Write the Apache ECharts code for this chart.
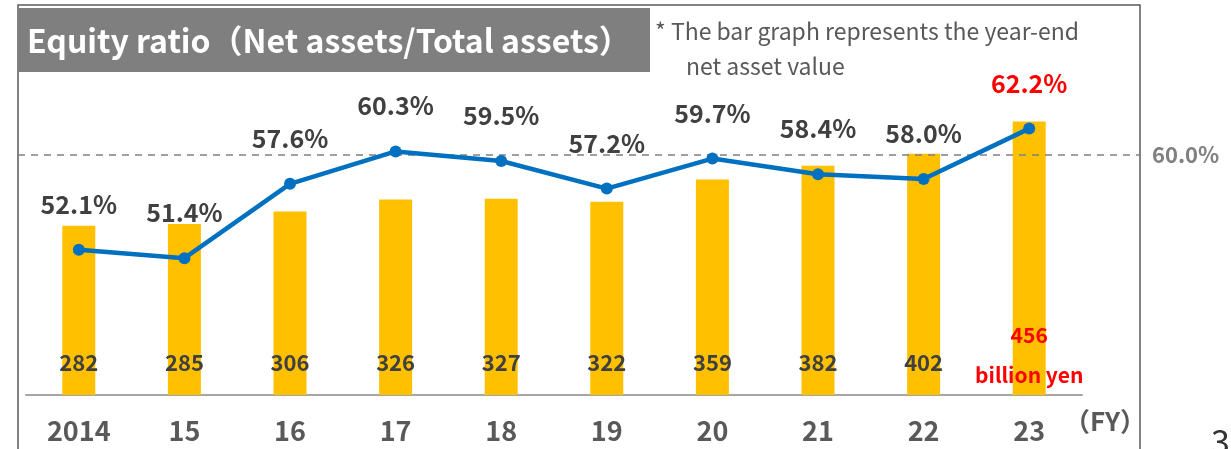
<!DOCTYPE html>
<html>
<head>
<meta charset="utf-8">
<script src="https://cdn.jsdelivr.net/npm/echarts@6/dist/echarts.min.js"></script>
<style>
html,body{margin:0;padding:0;background:#fff;}
#chart{width:1231px;height:449px;}
</style>
</head>
<body>
<div id="chart"></div>
<script>
const categories = ['2014','15','16','17','18','19','20','21','22','23'];
const netAssets = [282,285,306,326,327,322,359,382,402,456];
const equityRatio = [52.1,51.4,57.6,60.3,59.5,57.2,59.7,58.4,58.0,62.2];
const referenceRatio = 60.0;
const titleText = 'Equity ratio（Net assets/Total assets）';
const noteLines = ['* The bar graph represents the year-end', 'net asset value'];
const unitText = 'billion yen';
const axisUnit = '（FY）';
const pageNumber = '3';

const FONT = '"Noto Sans CJK JP", "Noto Sans", sans-serif';
const last = categories.length - 1;

const barData = netAssets.map((v, i) => i === last ? {
  value: v,
  label: {
    formatter: '{v|' + v + '}\n{u|' + unitText + '}',
    distance: 7,
    rich: {
      v: {color: '#FF0000', fontSize: 21, fontWeight: 'bold', fontFamily: FONT, lineHeight: 54},
      u: {color: '#FF0000', fontSize: 21, fontWeight: 'bold', fontFamily: FONT, lineHeight: 26}
    }
  }
} : v);

const lineData = equityRatio.map((v, i) => i === last ? {
  value: v, label: {color: '#FF0000'}
} : v);

const chart = echarts.init(document.getElementById('chart'), null, {renderer: 'canvas'});
chart.setOption({
  animation: false,
  backgroundColor: '#fff',
  grid: [
    {left: 26, right: 149, top: 95, bottom: 54},
    {left: 18, right: 91, top: 95, bottom: 54}
  ],
  xAxis: [
    {
      type: 'category', data: categories, gridIndex: 0,
      axisLine: {lineStyle: {color: '#A6A6A6', width: 2}},
      axisTick: {show: false},
      axisLabel: {color: '#595959', fontSize: 27, fontWeight: 'bold', fontFamily: FONT, margin: 22},
      name: axisUnit, nameLocation: 'end', nameGap: -18,
      nameTextStyle: {color: '#595959', fontSize: 26, fontWeight: 'bold', fontFamily: FONT,
        verticalAlign: 'top', align: 'left', padding: [13, 0, 0, 0]}
    },
    {type: 'value', gridIndex: 1, min: 0, max: 1, show: false}
  ],
  yAxis: [
    {type: 'value', gridIndex: 0, min: 0, max: 500, show: false},
    {type: 'value', gridIndex: 0, min: 40, max: 65, show: false},
    {type: 'value', gridIndex: 1, min: 40, max: 65, show: false}
  ],
  series: [
    {
      type: 'bar', xAxisIndex: 0, yAxisIndex: 0, data: barData,
      barWidth: 33, itemStyle: {color: '#FFC000'}, z: 1,
      label: {show: true, position: 'insideBottom', distance: 21,
        color: '#404040', fontSize: 22, fontWeight: 'bold', fontFamily: FONT}
    },
    {
      type: 'line', xAxisIndex: 1, yAxisIndex: 2,
      data: [[0, referenceRatio], [1, referenceRatio]],
      symbol: 'none', silent: true, z: 2,
      lineStyle: {color: '#808080', width: 1.5, type: [7, 6]},
      endLabel: {show: true, formatter: referenceRatio.toFixed(1) + '%', distance: 12,
        color: '#808080', fontSize: 22, fontWeight: 'bold', fontFamily: FONT}
    },
    {
      type: 'line', xAxisIndex: 0, yAxisIndex: 1, data: lineData, z: 3,
      symbol: 'circle', symbolSize: 12,
      lineStyle: {color: '#0070C0', width: 4.5},
      itemStyle: {color: '#0070C0'},
      label: {show: true, position: 'top', distance: 27,
        formatter: p => p.value.toFixed(1) + '%',
        color: '#404040', fontSize: 25, fontWeight: 'bold', fontFamily: FONT}
    }
  ],
  graphic: [
    {type: 'rect', shape: {x: 18, y: 5, width: 1122, height: 460}, z: -10,
      style: {fill: 'none', stroke: '#595959', lineWidth: 1.5}},
    {type: 'rect', shape: {x: 18, y: 8, width: 632, height: 64}, z: 10,
      style: {fill: '#7F7F7F'}},
    {type: 'text', x: 27, y: 41, z: 11,
      style: {text: titleText, fill: '#FFFFFF', font: 'bold 32px ' + FONT, textVerticalAlign: 'middle'}},
    {type: 'text', x: 655, y: 31, z: 11,
      style: {text: noteLines[0], fill: '#595959', font: '23px ' + FONT, textVerticalAlign: 'middle'}},
    {type: 'text', x: 686, y: 66, z: 11,
      style: {text: noteLines[1], fill: '#595959', font: '23px ' + FONT, textVerticalAlign: 'middle'}},
    {type: 'text', x: 1211, y: 424, z: 11,
      style: {text: pageNumber, fill: '#333333', font: '34px ' + FONT}}
  ]
});
</script>
</body>
</html>
